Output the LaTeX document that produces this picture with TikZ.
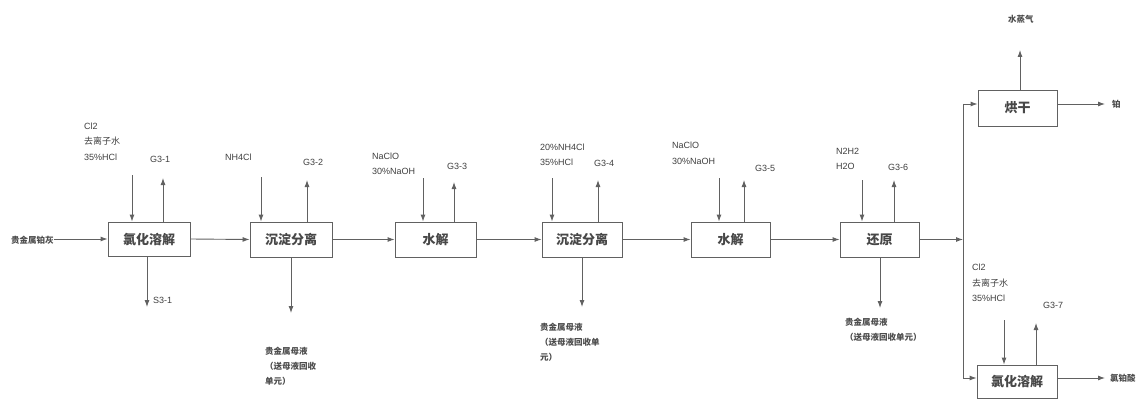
\documentclass[tikz,border=0pt]{standalone}
\usepackage{fontspec}
\setmainfont{Liberation Sans}
\newfontfamily\cjk{Noto Sans CJK SC}
\usetikzlibrary{arrows.meta}
\begin{document}
\begin{tikzpicture}[x=1pt,y=-1pt,
  line/.style={draw=black!62, line width=0.9pt},
  arr/.style={line, -{Latex[length=7pt,width=5pt]}},
  box/.style={draw=black!62, line width=0.9pt, minimum width=80pt, minimum height=35pt, inner sep=0pt,
    font=\cjk\bfseries\fontsize{13}{13}\selectfont, text=black!72},
  lab/.style={inner sep=0pt, font=\fontsize{9}{15.5}\selectfont, text=black!75, align=left},
  clab/.style={inner sep=0pt, font=\cjk\bfseries\fontsize{8.5}{15}\selectfont, text=black!70, align=left}]
\useasboundingbox[fill=white] (0,0) rectangle (1142,401);

% boxes
\node[box, minimum width=82pt, minimum height=34pt] (b1) at (149,239) {氯化溶解};
\node[box, minimum width=82pt] (b2) at (291,239.5) {沉淀分离};
\node[box, minimum width=81pt] (b3) at (435.5,239.5) {水解};
\node[box] (b4) at (582,239.5) {沉淀分离};
\node[box, minimum width=79pt] (b5) at (730.5,239.5) {水解};
\node[box, minimum width=79pt] (b6) at (879.5,239.5) {还原};
\node[box, minimum width=79pt, minimum height=36pt] (b7) at (1017.5,108) {烘干};
\node[box, minimum height=33pt] (b8) at (1017,381.5) {氯化溶解};

% labels
\node[clab, anchor=west] (src) at (11,240) {贵金属铂灰};
\node[lab, anchor=north west] (l1) at (84,122.5) {Cl2\\{\cjk 去离子水}\\35\%HCl};
\node[lab, anchor=west] (g1) at (150,159) {G3-1};
\node[lab, anchor=west] (s1) at (153,300) {S3-1};
\node[lab, anchor=west] (l2) at (225,157) {NH4Cl};
\node[lab, anchor=west] (g2) at (303,162) {G3-2};
\node[clab, anchor=north west] (m2) at (265,347) {贵金属母液\\（送母液回收\\单元）};
\node[lab, anchor=north west] (l3) at (372,152.5) {NaClO\\30\%NaOH};
\node[lab, anchor=west] (g3) at (447,166) {G3-3};
\node[lab, anchor=north west] (l4) at (540,143.5) {20\%NH4Cl\\35\%HCl};
\node[lab, anchor=west] (g4) at (594,163) {G3-4};
\node[clab, anchor=north west] (m4) at (540,322.5) {贵金属母液\\（送母液回收单\\元）};
\node[lab, anchor=north west] (l5) at (672,142) {NaClO\\30\%NaOH};
\node[lab, anchor=west] (g5) at (755,168) {G3-5};
\node[lab, anchor=north west] (l6) at (836,148) {N2H2\\H2O};
\node[lab, anchor=west] (g6) at (888,167) {G3-6};
\node[clab, anchor=north west] (m6) at (845,318) {贵金属母液\\（送母液回收单元）};
\node[clab, anchor=west] (steam) at (1008,19) {水蒸气};
\node[clab, anchor=west] (pt) at (1112,104) {铂};
\node[lab, anchor=north west] (l8) at (972,264) {Cl2\\{\cjk 去离子水}\\35\%HCl};
\node[lab, anchor=west] (g7) at (1043,305) {G3-7};
\node[clab, anchor=west] (acid) at (1110,378) {氯铂酸};

% main flow
\draw[arr] (src.east |- b1.west) -- (b1.west);
\draw[arr] (b1.east) -- (b2.west);
\draw[arr] (b2.east) -- (b3.west);
\draw[arr] (b3.east) -- (b4.west);
\draw[arr] (b4.east) -- (b5.west);
\draw[arr] (b5.east) -- (b6.west);
\coordinate (busm) at (963,239.5);
\coordinate (bust) at (963,104);
\coordinate (busb) at (963,378);
\draw[arr] (b6.east) -- (busm);
\draw[line] (bust) -- (busb);
\draw[arr] (bust) -- (bust -| b7.west);
\draw[arr] (busb) -- (busb -| b8.west);

% feeds (down into boxes)
\coordinate (f1) at (132,175);
\coordinate (f2) at (261,177);
\coordinate (f3) at (423,178);
\coordinate (f4) at (552,178);
\coordinate (f5) at (719,178);
\coordinate (f6) at (862,180);
\coordinate (f8) at (1004,320);
\foreach \f/\b in {f1/b1,f2/b2,f3/b3,f4/b4,f5/b5,f6/b6,f8/b8}
  \draw[arr] (\f) -- (\f |- \b.north);

% gas (up out of boxes)
\coordinate (e1) at (163,178);
\coordinate (e2) at (307,180);
\coordinate (e3) at (454,182);
\coordinate (e4) at (598,180);
\coordinate (e5) at (744,180);
\coordinate (e6) at (894,180);
\coordinate (e7) at (1020,50);
\coordinate (e8) at (1036,323);
\foreach \e/\b in {e1/b1,e2/b2,e3/b3,e4/b4,e5/b5,e6/b6,e7/b7,e8/b8}
  \draw[arr] (\e |- \b.north) -- (\e);

% liquids (down out of boxes)
\coordinate (d1) at (147,307);
\coordinate (d2) at (291,313);
\coordinate (d4) at (582,307);
\coordinate (d6) at (880,308);
\foreach \d/\b in {d1/b1,d2/b2,d4/b4,d6/b6}
  \draw[arr] (\d |- \b.south) -- (\d);

% products
\coordinate (o7) at (1105,104);
\coordinate (o8) at (1105,378);
\draw[arr] (o7 -| b7.east) -- (o7);
\draw[arr] (o8 -| b8.east) -- (o8);
\end{tikzpicture}
\end{document}
